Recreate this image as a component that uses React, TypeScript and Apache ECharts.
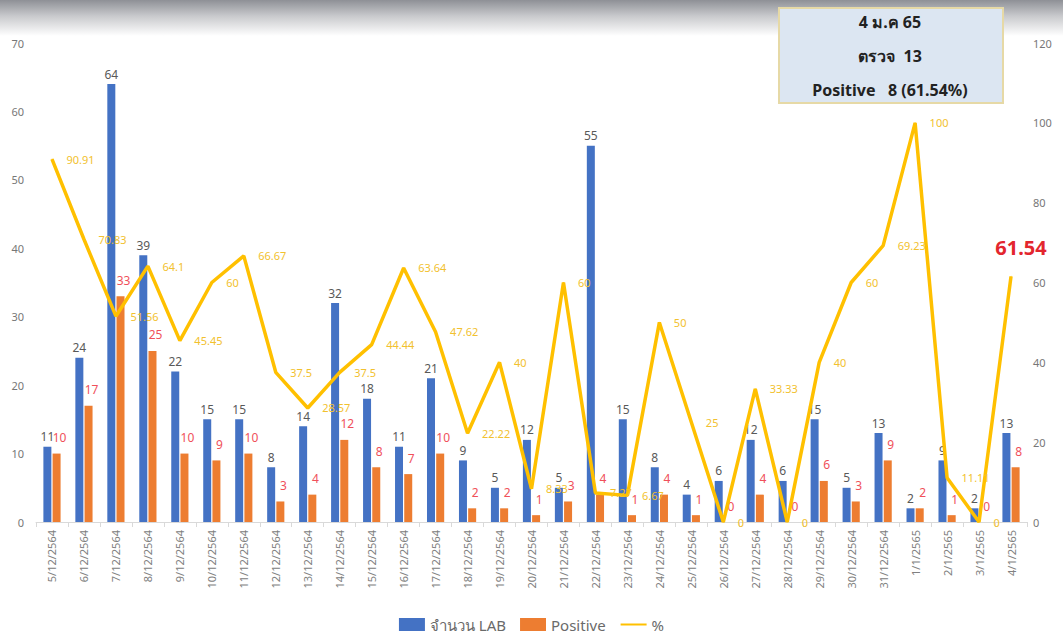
import React, { useEffect, useRef } from "react";
import * as echarts from "echarts";

const dates = [
  "5/12/2564", "6/12/2564", "7/12/2564", "8/12/2564", "9/12/2564", "10/12/2564",
  "11/12/2564", "12/12/2564", "13/12/2564", "14/12/2564", "15/12/2564", "16/12/2564",
  "17/12/2564", "18/12/2564", "19/12/2564", "20/12/2564", "21/12/2564", "22/12/2564",
  "23/12/2564", "24/12/2564", "25/12/2564", "26/12/2564", "27/12/2564", "28/12/2564",
  "29/12/2564", "30/12/2564", "31/12/2564", "1/1/2565", "2/1/2565", "3/1/2565", "4/1/2565",
];
const labCount = [11, 24, 64, 39, 22, 15, 15, 8, 14, 32, 18, 11, 21, 9, 5, 12, 5, 55, 15, 8, 4, 6, 12, 6, 15, 5, 13, 2, 9, 2, 13];
const positive = [10, 17, 33, 25, 10, 9, 10, 3, 4, 12, 8, 7, 10, 2, 2, 1, 3, 4, 1, 4, 1, 0, 4, 0, 6, 3, 9, 2, 1, 0, 8];
const percent = [90.91, 70.83, 51.56, 64.1, 45.45, 60, 66.67, 37.5, 28.57, 37.5, 44.44, 63.64, 47.62, 22.22, 40, 8.33, 60, 7.27, 6.67, 50, 25, 0, 33.33, 0, 40, 60, 69.23, 100, 11.11, 0, 61.54];
const leftTicks = { min: 0, max: 70, interval: 10 };
const rightTicks = { min: 0, max: 120, interval: 20 };
const infoLines = ["4 ม.ค 65", "ตรวจ  13", "Positive   8 (61.54%)"];

const FONT = "'Noto Sans', 'Open Sans', 'DejaVu Sans', sans-serif";

export default function App() {
  const ref = useRef<HTMLDivElement>(null);
  useEffect(() => {
    if (!ref.current) return;
    const chart = echarts.init(ref.current, undefined, { renderer: "svg" });
    const lastIdx = percent.length - 1;
    const pctData = percent.map((v, i) =>
      i === lastIdx
        ? {
            value: v,
            label: {
              show: true,
              position: "top",
              formatter: "{c}",
              color: "#E3262E",
              fontSize: 20,
              fontWeight: "bold",
              offset: [10, -4],
            },
          }
        : v
    );
    chart.setOption({
      animation: false,
      textStyle: { fontFamily: FONT },
      graphic: [
        {
          type: "rect",
          left: 0,
          top: 0,
          shape: { width: 1063, height: 36 },
          style: {
            fill: new echarts.graphic.LinearGradient(0, 0, 0, 1, [
              { offset: 0, color: "#8E9096" },
              { offset: 0.45, color: "#C9CACD" },
              { offset: 1, color: "#FFFFFF" },
            ]),
          },
          z: -10,
        },
        {
          type: "rect",
          left: 778,
          top: 7,
          shape: { width: 224, height: 95 },
          style: { fill: "#DCE6F2", stroke: "#E6D9A6", lineWidth: 2 },
          z: 10,
        },
        ...infoLines.map((t, i) => ({
          type: "text",
          x: 890,
          y: 22 + i * 34,
          z: 11,
          style: {
            text: t,
            fill: "#222222",
            font: `bold 16px ${FONT}`,
            textAlign: "center",
            textVerticalAlign: "middle",
          },
        })),
      ],
      legend: {
        bottom: 2,
        left: "center",
        itemWidth: 26,
        itemHeight: 13,
        itemGap: 14,
        textStyle: { color: "#6A6A6A", fontSize: 15 },
        data: [
          { name: "จำนวน LAB", icon: "rect" },
          { name: "Positive", icon: "rect" },
          { name: "%", itemStyle: { opacity: 0 } },
        ],
      },
      grid: { left: 36, right: 36, top: 43, bottom: 117 },
      xAxis: {
        type: "category",
        data: dates,
        axisLine: { lineStyle: { color: "#D9D9D9" } },
        axisTick: { show: true, lineStyle: { color: "#D9D9D9" } },
        axisLabel: { rotate: 90, color: "#808080", fontSize: 11, interval: 0, margin: 8 },
      },
      yAxis: [
        {
          type: "value",
          ...leftTicks,
          splitLine: { show: false },
          axisLine: { show: false },
          axisLabel: { color: "#777777", fontSize: 11, margin: 12 },
        },
        {
          type: "value",
          ...rightTicks,
          splitLine: { show: false },
          axisLine: { show: false },
          axisLabel: { color: "#777777", fontSize: 11, margin: 6 },
        },
      ],
      series: [
        {
          name: "จำนวน LAB",
          type: "bar",
          data: labCount,
          barWidth: 8,
          barGap: "15%",
          itemStyle: { color: "#4472C4" },
          label: { show: true, position: "top", color: "#595959", fontSize: 12, distance: 4 },
        },
        {
          name: "Positive",
          type: "bar",
          data: positive,
          barWidth: 8,
          itemStyle: { color: "#ED7D31" },
          label: { show: true, position: "top", color: "#F0505A", fontSize: 12, distance: 10, offset: [3, 0] },
        },
        {
          name: "%",
          type: "line",
          yAxisIndex: 1,
          data: pctData,
          symbol: "circle",
          symbolSize: 1,
          itemStyle: { color: "#FFC000" },
          lineStyle: { color: "#FFC000", width: 3.5 },
          label: { show: true, position: "right", color: "#F2C12E", fontSize: 11, distance: 14 },
          z: 5,
        },
      ],
    });
    return () => chart.dispose();
  }, []);
  return <div ref={ref} style={{ width: 1063, height: 639, position: "absolute", left: 0, top: 0, background: "#fff" }} />;
}
